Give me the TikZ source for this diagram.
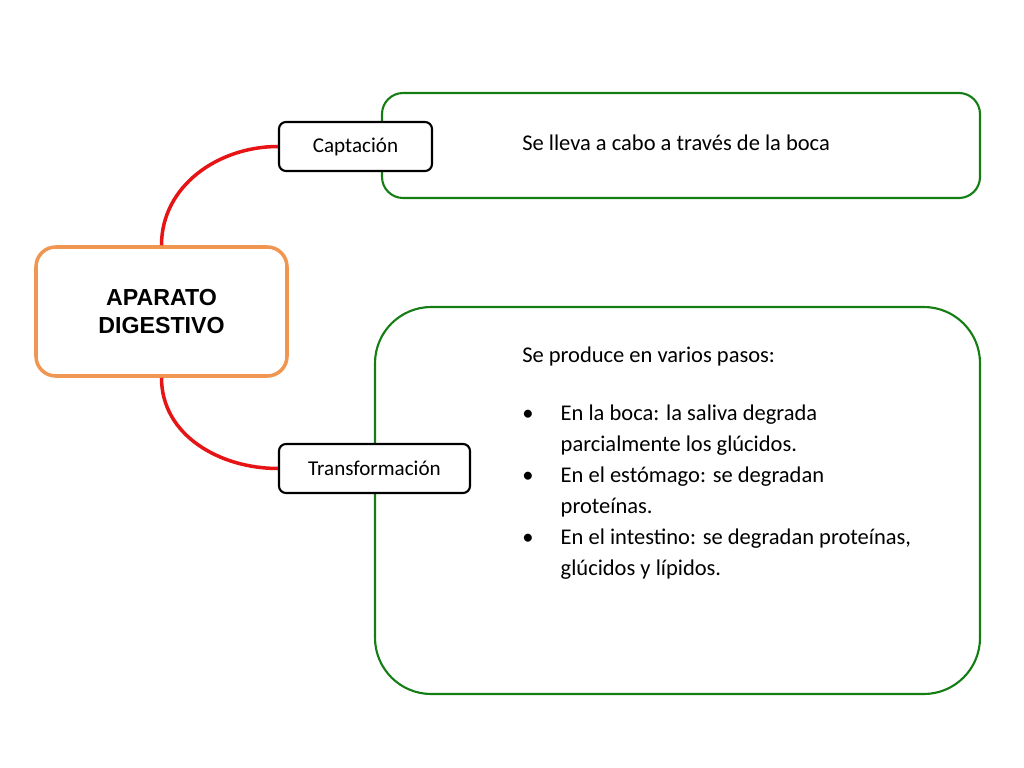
\documentclass[tikz,border=0pt]{standalone}
\usepackage{fontspec}
\setmainfont{Carlito}
\newfontfamily\arialfont{Liberation Sans}
\usetikzlibrary{positioning}
\definecolor{boxorange}{RGB}{240,150,80}
\definecolor{boxgreen}{RGB}{20,125,20}
\definecolor{linkred}{RGB}{230,20,20}
\tikzset{
  mainbox/.style={draw=boxorange, line width=2.5pt, rounded corners=14pt, fill=white,
    minimum width=251*0.025cm, minimum height=129*0.025cm, align=center,
    font=\arialfont\bfseries\fontsize{16.5}{20}\selectfont},
  stagebox/.style={draw=black, line width=1.5pt, rounded corners=5pt, fill=white,
    minimum height=49*0.025cm, font=\fontsize{15}{18}\selectfont},
  infobox/.style={draw=boxgreen, line width=1.5pt, fill=white},
  infotext/.style={font=\fontsize{16}{22}\selectfont, align=left, inner sep=0pt},
  linkline/.style={draw=linkred, line width=2.5pt}
}
\begin{document}
\begin{tikzpicture}[x=0.025cm,y=-0.025cm]
  \useasboundingbox (0,0) rectangle (1024,768);
  % green boxes
  \draw[infobox, rounded corners=15pt] (382,93) rectangle (980,198);
  \draw[infobox, rounded corners=40pt] (375,307) rectangle (980,694);
  % nodes
  \node[mainbox] (main) at (161.5,311.5) {APARATO\\DIGESTIVO};
  \node[stagebox, minimum width=153*0.025cm] (capt) at (355.5,146.5) {Captación};
  \node[stagebox, minimum width=191*0.025cm] (trans) at (374.5,468.5) {Transformación};
  \node[infotext, anchor=west] (captinfo) at (522,143) {Se lleva a cabo a través de la boca};
  \node[infotext, anchor=north west] (transinfo) at (522,347) {%
    Se produce en varios pasos:\\[22pt]
    \begin{tabular}{@{}l@{\hspace{0.68cm}}l@{}}
      \textbullet & En la boca: la saliva degrada\\
                  & parcialmente los glúcidos.\\
      \textbullet & En el estómago: se degradan\\
                  & proteínas.\\
      \textbullet & En el intestino: se degradan proteínas,\\
                  & glúcidos y lípidos.
    \end{tabular}};
  % links
  \draw[linkline] (main.north) to[out=90, in=180] (capt.west);
  \draw[linkline] (main.south) to[out=-90, in=180] (trans.west);
\end{tikzpicture}
\end{document}
